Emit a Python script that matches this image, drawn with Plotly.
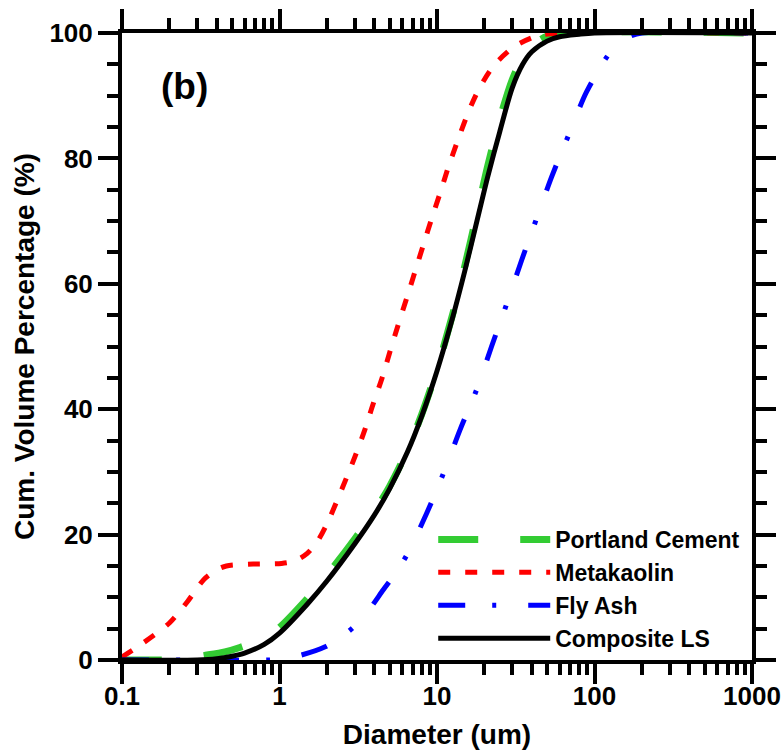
import plotly.graph_objects as go

# Particle size distributions (cumulative volume %, diameter in um)
pc_d = [0.1, 0.17, 0.25, 0.33, 0.45, 0.56, 0.8, 1.0, 1.5, 2.0, 3.0, 4.0, 5.0, 6.5,
        8.0, 10, 12.5, 15, 18, 21, 25, 30, 35, 40, 50, 60, 1000]
pc_v = [0, 0, 0.2, 0.7, 1.3, 2.0, 3.5, 5.2, 9.8, 13.5, 19.3, 23.7, 27.7, 33.5,
        39.2, 46.4, 54.9, 62.8, 71.4, 78.8, 86.2, 92.5, 96.2, 98.0, 99.5, 100, 100]

mk_d = [0.1, 0.136, 0.2, 0.26, 0.33, 0.4, 0.46, 0.68, 1.03, 1.25, 1.5, 1.75, 2.0, 2.4,
        3.01, 3.48, 3.94, 4.47, 5.03, 5.66, 6.42, 7.24, 8.19, 9.25, 10.5, 11.8, 13.3,
        15.6, 18.4, 23.3, 31.7, 44, 60, 1000]
mk_v = [0.5, 2.7, 5.9, 9.3, 12.8, 14.4, 15.0, 15.3, 15.4, 15.8, 17.0, 19.0, 21.7, 26.3,
        32.4, 36.7, 40.9, 44.9, 49.2, 53.4, 57.7, 61.9, 66.2, 70.4, 74.6, 78.6, 82.3,
        87.0, 91.0, 95.0, 98.0, 99.6, 100, 100]

fa_d = [0.1, 0.3, 0.87, 1.0, 1.38, 1.95, 2.5, 2.94, 3.7, 4.56, 5.5, 6.42, 8.6, 11.0, 14.0,
        17.9, 22.2, 27.8, 34.5, 43, 53.5, 69.2, 89, 125, 160, 200, 1000]
fa_v = [0, 0, 0, 0.1, 0.8, 2.1, 3.8, 5.2, 8.0, 11.2, 14.0, 16.7, 23.4, 29.8, 36.7,
        43.2, 50.0, 56.9, 63.8, 70.5, 77.1, 84.0, 90.6, 96.8, 99.2, 100, 100]

ls_d = [0.1, 0.3, 0.4, 0.5, 0.6, 0.8, 1.0, 1.5, 2.0, 3.0, 4.0, 5.0, 6.5, 8.0, 10,
        12.5, 15, 18, 21, 25, 30, 35, 40, 50, 60, 80, 100, 1000]
ls_v = [0, 0, 0.2, 0.6, 1.1, 2.5, 4.3, 8.9, 12.6, 18.5, 23.1, 27.3, 33.2, 38.9, 46.1,
        54.4, 62.0, 70.2, 77.1, 84.2, 91.2, 95.0, 97.0, 98.7, 99.4, 99.8, 100, 100]

x_ticks = [0.1, 1, 10, 100, 1000]
x_ticktext = ["0.1", "1", "10", "100", "1000"]
x_minor = [m * 10 ** e for e in range(-1, 3) for m in range(2, 10)]

FONT = "Liberation Sans, Arial, sans-serif"

fig = go.Figure()

series = [
    ("Portland Cement", pc_d, pc_v, "#33cc33", 7, "40px,42px"),
    ("Metakaolin", mk_d, mk_v, "#ff0000", 5, "12px,15px"),
    ("Fly Ash", fa_d, fa_v, "#0000ff", 5, "27px,27px,4px,32px"),
    ("Composite LS", ls_d, ls_v, "#000000", 5, "solid"),
]
for i, (name, xd, yd, col, w, dash) in enumerate(series):
    fig.add_trace(go.Scatter(
        x=xd, y=yd, name=name, mode="lines",
        line=dict(color=col, width=w, dash=dash, shape="spline", smoothing=0.8),
        legendgroup=f"g{i}",
    ))

axis_common = dict(
    showline=True, linecolor="black", linewidth=4,
    mirror="allticks", ticks="outside", ticklen=20, tickwidth=4, tickcolor="black",
    showgrid=False, zeroline=False, automargin=False,
    tickfont=dict(family=FONT, size=26, color="black", weight="bold"),
)

fig.update_xaxes(
    type="log", range=[-1, 3],
    tickmode="array", tickvals=x_ticks, ticktext=x_ticktext,
    ticklabelstandoff=-10,
    minor=dict(tickmode="array", tickvals=x_minor, ticks="outside", ticklen=11,
               tickwidth=4, tickcolor="black", showgrid=False),
    title=dict(text="Diameter (um)", standoff=15,
               font=dict(family=FONT, size=28, color="black", weight="bold")),
    **axis_common,
)
fig.update_yaxes(
    range=[0, 100], tickmode="linear", tick0=0, dtick=20,
    minor=dict(dtick=5, ticks="outside", ticklen=11, tickwidth=4,
               tickcolor="black", showgrid=False),
    title=dict(text="Cum. Volume Percentage (%)", standoff=8,
               font=dict(family=FONT, size=28, color="black", weight="bold")),
    **axis_common,
)

fig.add_annotation(
    text="(b)", x=0.058, y=0.915, xref="paper", yref="paper",
    xanchor="left", yanchor="middle", showarrow=False,
    font=dict(family=FONT, size=37, color="black", weight="bold"),
)

fig.update_layout(
    width=782, height=755,
    margin=dict(l=122, r=30, t=33, b=95),
    plot_bgcolor="white", paper_bgcolor="white",
    showlegend=True,
    legend=dict(
        x=0.494, y=0.0, xanchor="left", yanchor="bottom",
        bgcolor="rgba(0,0,0,0)", borderwidth=0,
        itemwidth=112, tracegroupgap=0,
        font=dict(family=FONT, size=23, color="black", weight="bold"),
    ),
)

fig.write_html("out.html")
